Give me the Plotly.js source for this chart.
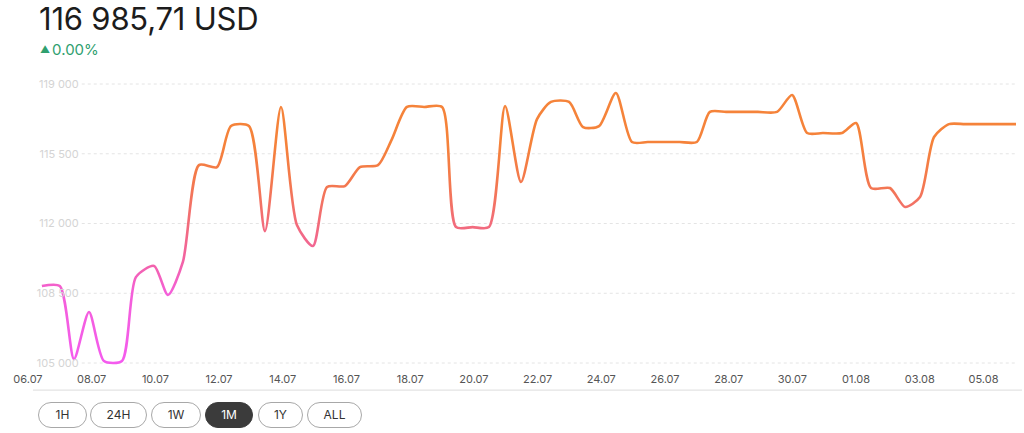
<!DOCTYPE html>
<html>
<head>
<meta charset="utf-8">
<script src="https://cdn.plot.ly/plotly-3.0.1.min.js"></script>
<style>
  html, body { margin:0; padding:0; background:#fff; }
  #wrap { position:relative; width:1024px; height:433px; overflow:hidden; font-family: Inter, "Liberation Sans", sans-serif; }
  #chart { position:absolute; left:0; top:0; width:1024px; height:433px; }
  #price { position:absolute; left:39px; top:3px; font-size:31px; line-height:31px; color:#1c1c1c; letter-spacing:-0.2px; font-weight:400; white-space:nowrap; }
  #change { position:absolute; left:40px; top:41px; font-size:15px; line-height:18px; color:#2fa06f; white-space:nowrap; }
  #change .tri { font-size:10px; position:relative; top:-2px; margin-right:2px; }
  .btn { position:absolute; top:402px; height:24px; border:1px solid #a8a8a8; border-radius:13px; font-size:12px; color:#333; text-align:center; line-height:24px; box-sizing:content-box; background:#fff; }
  .btn.sel { background:#3b3b3b; border-color:#3b3b3b; color:#fff; }
</style>
</head>
<body>
<div id="wrap">
  <div id="chart"></div>
  <div id="price">116 985,71 USD</div>
  <div id="change"><span class="tri">▲</span>0.00%</div>
  <div id="buttons"></div>
</div>
<script>
// ---- data ----
var dates = [
  '2025-07-06 10:30','2025-07-07 00:00','2025-07-07 10:40','2025-07-07 22:00',
  '2025-07-08 09:15','2025-07-08 22:50','2025-07-09 09:20','2025-07-09 23:00',
  '2025-07-10 09:30','2025-07-10 20:45','2025-07-11 08:50','2025-07-11 22:25',
  '2025-07-12 09:00','2025-07-12 22:30','2025-07-13 10:35','2025-07-13 22:40',
  '2025-07-14 10:40','2025-07-14 22:45','2025-07-15 09:20','2025-07-15 22:50',
  '2025-07-16 10:10','2025-07-16 23:45','2025-07-17 10:00','2025-07-17 21:35',
  '2025-07-18 10:30','2025-07-19 00:00','2025-07-19 10:30','2025-07-19 23:00',
  '2025-07-20 11:20','2025-07-20 23:30','2025-07-21 11:30','2025-07-21 23:35',
  '2025-07-22 10:05','2025-07-22 23:45','2025-07-23 10:15','2025-07-23 22:20',
  '2025-07-24 11:00','2025-07-24 23:05','2025-07-25 11:00','2025-07-25 23:00',
  '2025-07-26 11:00','2025-07-27 00:00','2025-07-27 09:50','2025-07-27 22:00',
  '2025-07-28 10:00','2025-07-28 22:00','2025-07-29 12:25','2025-07-29 23:45',
  '2025-07-30 11:05','2025-07-30 23:00','2025-07-31 13:25','2025-08-01 00:00',
  '2025-08-01 11:15','2025-08-02 01:30','2025-08-02 12:55','2025-08-03 00:10',
  '2025-08-03 10:45','2025-08-03 22:00','2025-08-04 10:00','2025-08-04 22:00',
  '2025-08-05 10:00','2025-08-05 22:00','2025-08-06 00:30'
];
var prices = [
  108860,108860,105200,107560,
  105100,105100,109310,109870,
  108410,110070,114930,114830,
  116890,116890,111620,117850,
  111920,110870,113830,113880,
  114830,114930,116200,117850,
  117850,117850,111820,111820,
  111820,117900,114080,117240,
  118100,118100,116840,116890,
  118550,116090,116090,116090,
  116090,116090,117600,117600,
  117600,117600,117600,118450,
  116540,116540,116540,117040,
  113780,113780,112830,113330,
  116340,116985.71,116985.71,116985.71,
  116985.71,116985.71,116985.71
];
var xTickVals = ['2025-07-06','2025-07-08','2025-07-10','2025-07-12','2025-07-14','2025-07-16',
  '2025-07-18','2025-07-20','2025-07-22','2025-07-24','2025-07-26','2025-07-28','2025-07-30',
  '2025-08-01','2025-08-03','2025-08-05'];
var xTickText = ['06.07','08.07','10.07','12.07','14.07','16.07','18.07','20.07','22.07',
  '24.07','26.07','28.07','30.07','01.08','03.08','05.08'];
var yTickVals = [105000, 108500, 112000, 115500, 119000];
var yTickText = ['105 000', '108 500', '112 000', '115 500', '119 000'];
var rangeButtons = ['1H', '24H', '1W', '1M', '1Y', 'ALL'];
var selectedButton = '1M';

// ---- styles ----
var gradStopVals   = [105000, 108500, 110300, 112000, 114000, 116000, 119000];
var gradStopColors = ['#f45bee', '#f45fd9', '#f2639f', '#f26c7a', '#f3784f', '#f5823a', '#f5843a'];
var yRange = [104649, 119703];

var gd = document.getElementById('chart');
var trace = {
  x: dates, y: prices, type: 'scatter', mode: 'lines',
  line: { color: '#f5843a', width: 2.6, shape: 'spline', smoothing: 0.7 },
  hoverinfo: 'skip'
};
var axisHolder = { x: [], y: [], type: 'scatter', mode: 'lines', yaxis: 'y2', hoverinfo: 'skip', showlegend: false };
var gridShapes = yTickVals.map(function (v) {
  return { type: 'line', xref: 'paper', yref: 'y', x0: 0.062, x1: 1, y0: v, y1: v,
           line: { color: '#e4e4e4', width: 1, dash: 'dot' }, layer: 'below' };
});
var layout = {
  width: 1024, height: 433,
  margin: { l: 20, r: 8, t: 70, b: 63 },
  paper_bgcolor: '#fff', plot_bgcolor: '#fff',
  showlegend: false,
  font: { family: 'Inter, "Liberation Sans", sans-serif' },
  xaxis: {
    type: 'date',
    range: ['2025-07-05 18:00', '2025-08-06 00:30'],
    tickvals: xTickVals, ticktext: xTickText,
    showgrid: false, zeroline: false, showline: false,
    ticks: '', ticklabelstandoff: 1,
    tickfont: { size: 11, color: '#555' }
  },
  yaxis: {
    range: yRange, showticklabels: false,
    showgrid: false, zeroline: false, showline: false, ticks: ''
  },
  yaxis2: {
    range: yRange, overlaying: 'y', anchor: 'free', position: 0.059, side: 'left',
    tickvals: yTickVals, ticktext: yTickText,
    showgrid: false, zeroline: false, showline: false, ticks: '', ticklabelstandoff: 0,
    tickfont: { size: 11, color: '#d4d4d4' }
  },
  shapes: gridShapes.concat([
    { type: 'line', xref: 'paper', yref: 'paper', x0: 0.013, x1: 1.006, y0: -0.067, y1: -0.067,
      line: { color: '#dcdcdc', width: 1 } }
  ])
};

Plotly.newPlot(gd, [trace, axisHolder], layout, { displayModeBar: false, staticPlot: true }).then(applyGradient);

function applyGradient() {
  var ya = gd._fullLayout.yaxis;
  var svg = gd.querySelector('.main-svg');
  var NS = 'http://www.w3.org/2000/svg';
  var defs = svg.querySelector('defs');
  if (!defs) { defs = document.createElementNS(NS, 'defs'); svg.insertBefore(defs, svg.firstChild); }
  var lg = document.createElementNS(NS, 'linearGradient');
  lg.setAttribute('id', 'priceLineGrad');
  lg.setAttribute('gradientUnits', 'userSpaceOnUse');
  var y1 = ya.l2p(gradStopVals[0]);
  var y2 = ya.l2p(gradStopVals[gradStopVals.length - 1]);
  lg.setAttribute('x1', 0); lg.setAttribute('x2', 0);
  lg.setAttribute('y1', y1); lg.setAttribute('y2', y2);
  for (var i = 0; i < gradStopVals.length; i++) {
    var s = document.createElementNS(NS, 'stop');
    s.setAttribute('offset', (ya.l2p(gradStopVals[i]) - y1) / (y2 - y1));
    s.setAttribute('stop-color', gradStopColors[i]);
    lg.appendChild(s);
  }
  defs.appendChild(lg);
  var paths = gd.querySelectorAll('.scatterlayer .trace path.js-line');
  paths.forEach(function (p) { p.style.stroke = 'url(#priceLineGrad)'; });
}

// range selector pills
var btnLefts = [38, 90, 151, 205, 258, 307];
var btnWidths = [47, 55, 48, 46, 43, 53];
var bc = document.getElementById('buttons');
rangeButtons.forEach(function (lab, i) {
  var d = document.createElement('div');
  d.className = 'btn' + (lab === selectedButton ? ' sel' : '');
  d.style.left = btnLefts[i] + 'px';
  d.style.width = btnWidths[i] + 'px';
  d.textContent = lab;
  bc.appendChild(d);
});
</script>
</body>
</html>
